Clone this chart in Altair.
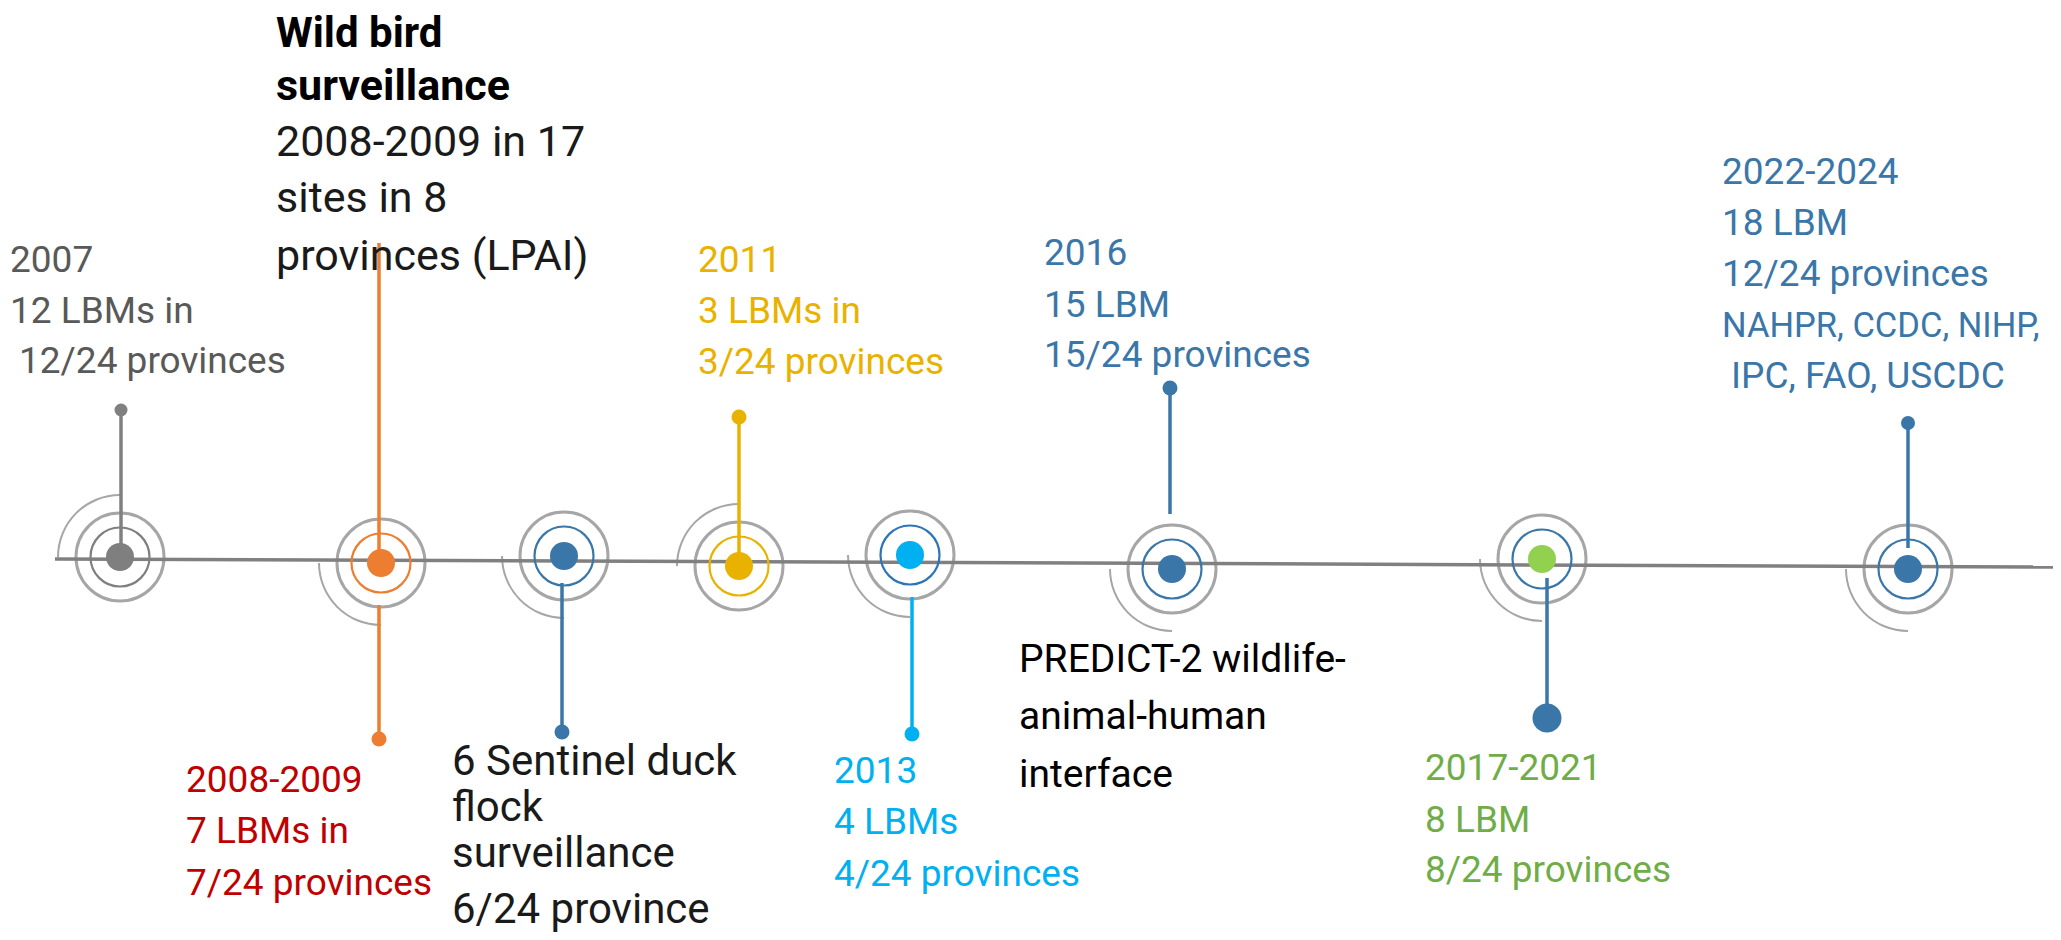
import altair as alt
import pandas as pd
import math

# ---------------- data ----------------
node_event = ["2007", "2008-2009 wild bird", "Sentinel duck", "2011", "2013", "2016", "2017-2021", "2022-2024"]
node_fill = ["#7f7f7f", "#ed7d31", "#3a77a8", "#e9b200", "#00b0f0", "#3a77a8", "#92d050", "#3a77a8"]
node_ring = ["#7f7f7f", "#ed7d31", "#3a77a8", "#e9b200", "#2e75b6", "#3a77a8", "#3a77a8", "#3a77a8"]
node_arc_side = ["upper", "lower", "lower", "upper", "lower", "lower", "lower", "lower"]

stem_color = ["#808080", "#ed7d31", "#ed7d31", "#3a77a8", "#e9b200", "#00b0f0", "#3a77a8", "#3a77a8", "#3a77a8"]
stem_has_dot = [True, False, True, True, True, True, True, True, True]

text_lines = [
    "2007", "12 LBMs in", "12/24 provinces",
    "Wild bird", "surveillance",
    "2008-2009 in 17", "sites in 8", "provinces (LPAI)",
    "2011", "3 LBMs in", "3/24 provinces",
    "2016", "15 LBM", "15/24 provinces",
    "2022-2024", "18 LBM", "12/24 provinces", "NAHPR, CCDC, NIHP,", "IPC, FAO, USCDC",
    "2008-2009", "7 LBMs in", "7/24 provinces",
    "6 Sentinel duck", "flock", "surveillance", "6/24 province",
    "2013", "4 LBMs", "4/24 provinces",
    "PREDICT-2  wildlife-", "animal-human", "interface",
    "2017-2021", "8 LBM", "8/24 provinces",
]
text_color = (
    ["#595959"] * 3 + ["#000000"] * 2 + ["#1a1a1a"] * 3 + ["#e9b200"] * 3 + ["#3a77a8"] * 3
    + ["#3a77a8"] * 5 + ["#c00000"] * 3 + ["#1a1a1a"] * 4 + ["#00b0f0"] * 3 + ["#000000"] * 3
    + ["#70ad47"] * 3
)

# ---------------- layout (page pixel coordinates) ----------------
W, H = 2045, 924
OX, OY = 8, 8
node_x = [120, 381, 564, 739, 910, 1172, 1542, 1908]
node_y = [557, 563, 556, 566, 555, 569, 559, 569]

stem_x = [121, 379, 379, 562, 739, 912, 1170, 1547, 1908]
stem_y1 = [557, 563, 605, 583, 566, 597, 514, 578, 548]
stem_y2 = [410, 243, 739, 732, 417, 734, 388, 718, 423]
stem_dot_d = [13, 0, 15, 15, 15, 15, 15, 29, 14]

line_x = [55, 2053]
line_y = [559, 567]

text_x = ([10, 10, 19] + [276] * 5 + [698] * 3 + [1044] * 3 + [1722] * 4 + [1731] + [186] * 3 + [452] * 4
          + [834] * 3 + [1019] * 3 + [1425] * 3)
text_y = [272, 323, 373,
          47, 100,
          156, 212, 270,
          272, 323, 374,
          265, 317, 367,
          184, 235, 286, 337, 388,
          792, 843, 895,
          775, 821, 867, 923,
          783, 834, 886,
          672, 729, 787,
          780, 832, 882]
text_size = ([37] * 3 + [42, 43] + [43] * 3 + [37] * 3 + [37] * 3 + [37] * 3 + [34.5] + [37] + [37] * 3 + [42] * 4
             + [37] * 3 + [39] * 3 + [37] * 3)
text_bold = [False] * 3 + [True] * 2 + [False] * (len(text_lines) - 5)

# ---------------- frames ----------------
nodes = pd.DataFrame({
    "event": node_event, "x": node_x, "y": node_y,
    "fill": node_fill, "ring": node_ring, "side": node_arc_side,
})
nodes["t0"] = [3 * math.pi / 2 if s == "upper" else math.pi for s in node_arc_side]
nodes["t1"] = [2 * math.pi if s == "upper" else 3 * math.pi / 2 for s in node_arc_side]

stems = pd.DataFrame({
    "x": stem_x, "y": stem_y1, "y2": stem_y2, "color": stem_color,
    "dot": stem_has_dot, "s": [d * d for d in stem_dot_d],
})
line_df = pd.DataFrame({"x": [line_x[0]], "y": [line_y[0]], "x2": [line_x[1]], "y2": [line_y[1]]})
texts = pd.DataFrame({
    "text": text_lines, "x": text_x, "y": text_y, "color": text_color,
    "fs": text_size, "bold": text_bold,
})

xs = alt.Scale(domain=[OX, OX + W], range=[0, W], nice=False, zero=False)
ys = alt.Scale(domain=[OY, OY + H], range=[0, H], nice=False, zero=False)
X = alt.X("x:Q", scale=xs, axis=None)
Y = alt.Y("y:Q", scale=ys, axis=None)

arcs = alt.Chart(nodes).mark_arc(radius=63, radius2=61, color="#a6a6a6").encode(
    x=X, y=Y,
    theta=alt.Theta("t0:Q", scale=None, stack=None),
    theta2="t1:Q",
)
outer = alt.Chart(nodes).mark_point(
    shape="circle", filled=False, strokeWidth=3, color="#a6a6a6", size=88 * 88, opacity=1
).encode(x=X, y=Y)
main_line = alt.Chart(line_df).mark_rule(strokeWidth=3.5, color="#808080").encode(
    x=X, y=Y, x2="x2:Q", y2="y2:Q"
)
inner = alt.Chart(nodes).mark_point(
    shape="circle", filled=False, strokeWidth=2.2, size=59 * 59, opacity=1
).encode(x=X, y=Y, color=alt.Color("ring:N", scale=None))
stem_rules = alt.Chart(stems).mark_rule(strokeWidth=3.5).encode(
    x=X, y=Y, y2="y2:Q", color=alt.Color("color:N", scale=None)
)
stem_dots = alt.Chart(stems).transform_filter("datum.dot").mark_circle(opacity=1).encode(
    x=X, y=alt.Y("y2:Q", scale=ys, axis=None),
    color=alt.Color("color:N", scale=None),
    size=alt.Size("s:Q", scale=None),
)
dots = alt.Chart(nodes).mark_circle(size=28 * 28, opacity=1).encode(
    x=X, y=Y, color=alt.Color("fill:N", scale=None)
)

txt_regular = alt.Chart(texts).transform_filter("!datum.bold").mark_text(
    align="left", baseline="alphabetic", font="Roboto"
).encode(
    x=X, y=Y, text="text:N", color=alt.Color("color:N", scale=None),
    size=alt.Size("fs:Q", scale=None),
)
txt_bold = alt.Chart(texts).transform_filter("datum.bold").mark_text(
    align="left", baseline="alphabetic", font="Roboto", fontWeight="bold"
).encode(
    x=X, y=Y, text="text:N", color=alt.Color("color:N", scale=None),
    size=alt.Size("fs:Q", scale=None),
)

chart = alt.layer(
    arcs, outer, main_line, inner, stem_rules, stem_dots, dots, txt_regular, txt_bold
).properties(
    width=W, height=H, padding=0, autosize="none", background="white"
).configure_view(stroke=None)

chart.save("out.html", embed_options={"renderer": "svg", "actions": False})
